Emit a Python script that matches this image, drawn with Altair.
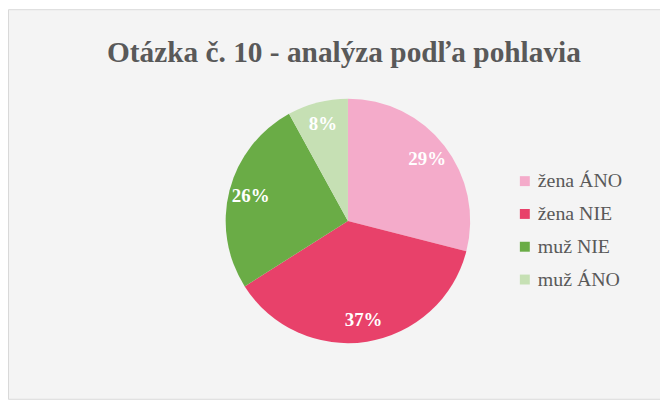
import altair as alt
import pandas as pd

categories = ["žena ÁNO", "žena NIE", "muž NIE", "muž ÁNO"]
values = [29, 37, 26, 8]
labels = ["29%", "37%", "26%", "8%"]
colors = ["#F4ABCA", "#E8416A", "#6AAC46", "#C6E0B4"]

df = pd.DataFrame({"cat": categories, "val": values, "lab": labels,
                   "ord": list(range(len(categories)))})

base = alt.Chart(df).encode(
    theta=alt.Theta("val:Q", stack=True),
    order=alt.Order("ord:Q"),
)

arc = base.mark_arc(outerRadius=123).encode(
    x=alt.value(342), y=alt.value(213),
    color=alt.Color("cat:N", sort=categories,
                    scale=alt.Scale(domain=categories, range=colors),
                    legend=alt.Legend(title=None, orient="none",
                                      legendX=510, legendY=163,
                                      symbolType="square", symbolSize=100,
                                      symbolStrokeWidth=0,
                                      labelFont="Liberation Serif",
                                      labelFontSize=20, labelColor="#595959",
                                      labelOffset=3, rowPadding=13,
                                      padding=0)),
)

text = base.mark_text(radius=101, font="Liberation Serif", fontSize=19,
                      fontWeight="bold", color="white").encode(
    x=alt.value(342), y=alt.value(213),
    text="lab:N",
)

chart = (arc + text).properties(
    width=656, height=392,
    title=alt.TitleParams("Otázka č. 10 - analýza podľa pohlavia",
                          font="Liberation Serif", fontSize=29.5,
                          fontWeight="bold", color="#595959",
                          anchor="middle", baseline="alphabetic",
                          offset=0, dy=83, dx=10),
    autosize=alt.AutoSizeParams(type="none"),
    padding=0,
    background="white",
).configure_view(fill="#F4F4F4", stroke="#D9D9D9", strokeWidth=1)

chart.save("out.html", embed_options={"renderer": "svg", "actions": False})
